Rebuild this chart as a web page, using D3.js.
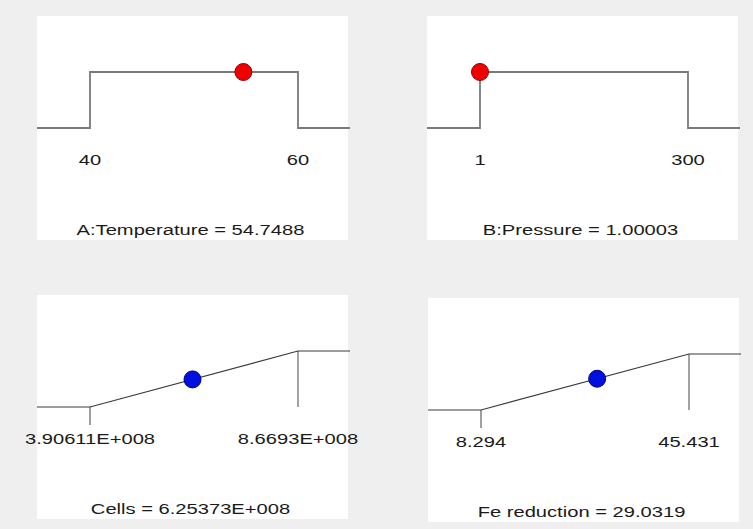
<!DOCTYPE html>
<html>
<head>
<meta charset="utf-8">
<script src="https://cdn.jsdelivr.net/npm/d3@7"></script>
<style>
  body { margin: 0; background: #efefef; }
  svg { display: block; }
  text { font-family: Arial, "Liberation Sans", sans-serif; fill: #1a1a1a; }
</style>
</head>
<body>
<script>
const WIDTH  = 753;
const HEIGHT = 529;

// Desirability ramps: one per factor / response
const names        = ['A:Temperature', 'B:Pressure', 'Cells', 'Fe reduction'];
const kinds        = ['factor', 'factor', 'response', 'response'];
const goals        = ['range', 'range', 'maximize', 'maximize'];
const lowLimits    = [40, 1, 3.90611e8, 8.294];
const highLimits   = [60, 300, 8.6693e8, 45.431];
const values       = [54.7488, 1.00003, 6.25373e8, 29.0319];
const lowLabels    = ['40', '1', '3.90611E+008', '8.294'];
const highLabels   = ['60', '300', '8.6693E+008', '45.431'];
const valueLabels  = ['54.7488', '1.00003', '6.25373E+008', '29.0319'];

// panel boxes (layout only)
const PANEL_W = 311;
const PANEL_H = 224;
const panelPos = [[37, 16], [427, 16], [37, 295], [428, 298]];

const dotFill   = { factor: '#f00000', response: '#0010e0' };
const dotStroke = { factor: '#900000', response: '#000080' };

const svg = d3.select('body').append('svg')
    .attr('width', WIDTH)
    .attr('height', HEIGHT);

// text in the original is drawn wide, stretch it a bit
const label = (g, x, y, str) =>
    g.append('text')
        .attr('transform', `translate(${x},${y}) scale(1.3,1)`)
        .attr('text-anchor', 'middle')
        .style('font-size', '15.5px')
        .text(str);

names.forEach((name, i) => {
    const [px, py] = panelPos[i];
    const g = svg.append('g').attr('transform', `translate(${px},${py})`);

    g.append('rect')
        .attr('width', PANEL_W)
        .attr('height', PANEL_H)
        .attr('fill', '#ffffff');

    const x = d3.scaleLinear().domain([lowLimits[i], highLimits[i]]).range([53, 261]);
    const y = d3.scaleLinear().domain([0, 1]).range([112, 56]);
    const x0 = x.invert(0), x1 = x.invert(PANEL_W + 2);
    const lo = lowLimits[i], hi = highLimits[i];

    const line = d3.line().x(d => x(d[0])).y(d => y(d[1]));

    if (goals[i] === 'range') {
        const pts = [[x0, 0], [lo, 0], [lo, 1], [hi, 1], [hi, 0], [x1, 0]];
        g.append('path')
            .attr('d', line(pts))
            .attr('fill', 'none')
            .attr('stroke', '#7a7a7a')
            .attr('stroke-width', 1.8);
    } else {
        // ticks under the ramp ends
        g.append('line')
            .attr('x1', x(lo)).attr('x2', x(lo))
            .attr('y1', y(0)).attr('y2', y(0) + 18)
            .attr('stroke', '#888').attr('stroke-width', 1.6);
        g.append('line')
            .attr('x1', x(hi)).attr('x2', x(hi))
            .attr('y1', y(1)).attr('y2', y(0))
            .attr('stroke', '#999').attr('stroke-width', 1.8);
        const pts = [[x0, 0], [lo, 0], [hi, 1], [x1, 1]];
        g.append('path')
            .attr('d', line(pts))
            .attr('fill', 'none')
            .attr('stroke', '#3a3a3a')
            .attr('stroke-width', 1.2);
    }

    // desirability of the current setting
    const v = values[i];
    const d = goals[i] === 'range'
        ? (v >= lo && v <= hi ? 1 : 0)
        : Math.max(0, Math.min(1, (v - lo) / (hi - lo)));

    g.append('circle')
        .attr('cx', x(v))
        .attr('cy', y(d))
        .attr('r', 8.5)
        .attr('fill', dotFill[kinds[i]])
        .attr('stroke', dotStroke[kinds[i]])
        .attr('stroke-width', 1);

    label(g, x(lo), 149, lowLabels[i]);
    label(g, x(hi), 149, highLabels[i]);
    label(g, PANEL_W / 2 - 2, 219, `${name} = ${valueLabels[i]}`);
});
</script>
</body>
</html>
